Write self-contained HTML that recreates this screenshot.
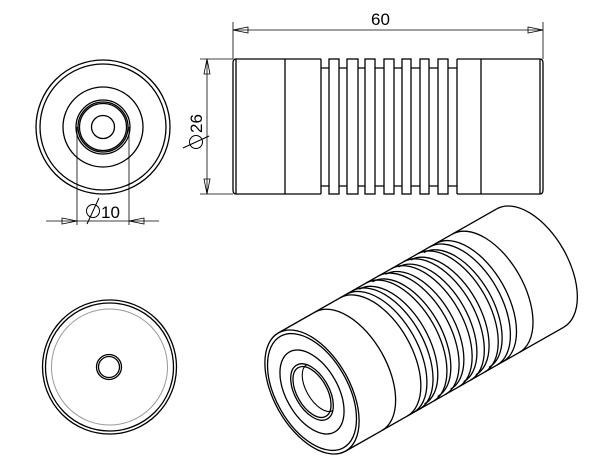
<!DOCTYPE html>
<html><head><meta charset="utf-8"><style>
html,body{margin:0;padding:0;background:#fff;}
svg{display:block;}
text{font-family:"Liberation Sans","DejaVu Sans",sans-serif;fill:#000;}
</style></head><body>
<svg width="600" height="473" viewBox="0 0 600 473" xmlns="http://www.w3.org/2000/svg">
<g fill="none" stroke="#000" stroke-width="1.3">
<!-- front view -->
<circle cx="103" cy="127" r="67"/>
<circle cx="103" cy="127" r="63"/>
<circle cx="103" cy="127" r="40"/>
<circle cx="103" cy="127" r="27"/>
<circle cx="103" cy="127" r="25"/>
<circle cx="103" cy="127" r="23.5"/>
<circle cx="103" cy="127" r="11.5"/>
<g stroke-width="0.8">
<line x1="77" y1="127" x2="77" y2="225"/>
<line x1="129" y1="127" x2="129" y2="225"/>
<line x1="46" y1="221" x2="159" y2="221"/>
<path d="M62,218 L77,221 L62,224 Z"/>
<path d="M144,218 L129,221 L144,224 Z"/>
</g>
<!-- side view -->
<path d="M321,59 L236,59 Q233,59 233,63 L233,190 Q233,194 236,194 L321,194"/>
<path d="M457,59 L540,59 Q543,59 543,63 L543,190 Q543,194 540,194 L457,194"/>
<line x1="236" y1="59" x2="236" y2="194"/>
<line x1="540" y1="59" x2="540" y2="194"/>
<line x1="285" y1="59" x2="285" y2="194"/>
<line x1="321" y1="59" x2="321" y2="194"/>
<line x1="457" y1="59" x2="457" y2="194"/>
<line x1="481" y1="59" x2="481" y2="194"/>
<line x1="321" y1="68" x2="457" y2="68"/>
<line x1="321" y1="186" x2="457" y2="186"/>
<g fill="#fff">
<rect x="329" y="59" width="10" height="135"/>
<rect x="347" y="59" width="11" height="135"/>
<rect x="365" y="59" width="10" height="135"/>
<rect x="384" y="59" width="10" height="135"/>
<rect x="402" y="59" width="9" height="135"/>
<rect x="420" y="59" width="9" height="135"/>
<rect x="438" y="59" width="10" height="135"/>
</g>
<g stroke-width="0.8">
<line x1="233" y1="22" x2="233" y2="59"/>
<line x1="543" y1="22" x2="543" y2="59"/>
<line x1="233" y1="30" x2="543" y2="30"/>
<path d="M233,30 L248,27 L248,33 Z"/>
<path d="M543,30 L528,27 L528,33 Z"/>
<line x1="200" y1="59" x2="233" y2="59"/>
<line x1="200" y1="194" x2="233" y2="194"/>
<line x1="207" y1="59" x2="207" y2="194"/>
<path d="M207,59 L204,74 L210,74 Z"/>
<path d="M207,194 L204,179 L210,179 Z"/>
</g>
<!-- dia symbols -->
<g stroke-width="1">
<circle cx="93" cy="211" r="6.5"/>
<line x1="87" y1="224" x2="99" y2="198"/>
<circle cx="196" cy="142" r="6.5"/>
<line x1="183" y1="148" x2="209" y2="136"/>
</g>
<!-- bottom-left view -->
<circle cx="109.5" cy="367" r="67"/>
<circle cx="109.5" cy="367" r="64"/>
<circle cx="109.5" cy="367" r="58" stroke="#999" stroke-width="1"/>
<circle cx="109" cy="367" r="12.5"/>
<circle cx="109" cy="367" r="10.5"/>
<!-- isometric -->
<g transform="translate(312,392) rotate(-29.6)">
<line x1="0" y1="-68" x2="251" y2="-68"/>
<line x1="0" y1="68" x2="251" y2="68"/>
<path d="M251,-68 A38 68 0 0 1 251,68"/>
<path d="M200,-68 A38 68 0 0 1 200,68"/>
<path d="M181,-68 A38 68 0 0 1 181,68"/>
<path d="M174,-68 A38 68 0 0 1 174,68"/>
<path d="M166,-66 A37 66 0 0 1 166,66"/>
<path d="M160,-68 A38 68 0 0 1 160,68"/>
<path d="M151,-66 A37 66 0 0 1 151,66"/>
<path d="M144,-68 A38 68 0 0 1 144,68"/>
<path d="M137,-66 A37 66 0 0 1 137,66"/>
<path d="M130,-68 A38 68 0 0 1 130,68"/>
<path d="M122,-66 A37 66 0 0 1 122,66"/>
<path d="M115,-68 A38 68 0 0 1 115,68"/>
<path d="M107,-66 A37 66 0 0 1 107,66"/>
<path d="M101,-68 A38 68 0 0 1 101,68"/>
<path d="M92,-66 A37 66 0 0 1 92,66"/>
<path d="M85,-68 A38 68 0 0 1 85,68"/>
<path d="M78,-68 A38 68 0 0 1 78,68"/>
<path d="M71,-68 A38 68 0 0 1 71,68"/>
<path d="M42,-68 A38 68 0 0 1 42,68"/>
<ellipse cx="0" cy="0" rx="38" ry="68" fill="#fff"/>
<ellipse cx="0" cy="0" rx="36" ry="64"/>
<ellipse cx="0" cy="0" rx="26" ry="46"/>
<ellipse cx="0" cy="0" rx="17" ry="31"/>
<path d="M0,-31 A16 31 0 0 0 0,31" transform="translate(9,0) scale(0.85)"/>
<ellipse cx="0" cy="0" rx="15" ry="28"/>
</g>
</g>
<text x="371" y="25" font-size="17">60</text>
<text x="101" y="218" font-size="17">10</text>
<text transform="translate(202,133) rotate(-90)" font-size="17">26</text>
</svg>
</body></html>
